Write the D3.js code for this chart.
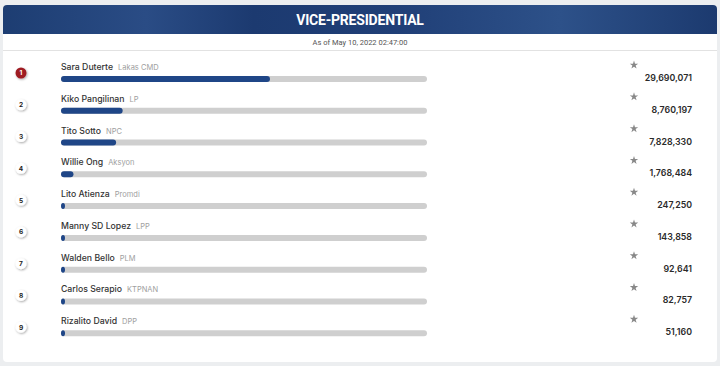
<!DOCTYPE html>
<html>
<head>
<meta charset="utf-8">
<script src="https://cdn.jsdelivr.net/npm/d3@7"></script>
<style>
  body { margin: 0; background: #eceef0; }
  svg { display: block; font-family: Inter, "Noto Sans", sans-serif; }
</style>
</head>
<body>
<svg id="chart"></svg>
<script>
// candidates, parties and votes as shown on the board
const names = ["Sara Duterte", "Kiko Pangilinan", "Tito Sotto", "Willie Ong", "Lito Atienza",
  "Manny SD Lopez", "Walden Bello", "Carlos Serapio", "Rizalito David"];
const parties = ["Lakas CMD", "LP", "NPC", "Aksyon", "Promdi", "LPP", "PLM", "KTPNAN", "DPP"];
const votes = [29690071, 8760197, 7828330, 1768484, 247250, 143858, 92641, 82757, 51160];
const voteMax = 52000000; // bar track full length

const W = 720, H = 366;
const svg = d3.select("#chart").attr("width", W).attr("height", H);

const defs = svg.append("defs");
const grad = defs.append("linearGradient").attr("id", "hdr").attr("x1", "0").attr("x2", "1");
[["0", "#1d3d72"], ["0.2", "#2a4c85"], ["0.35", "#1c3a70"], ["0.55", "#203f77"],
 ["0.78", "#2d5189"], ["1", "#1c3a6f"]].forEach(s =>
  grad.append("stop").attr("offset", s[0]).attr("stop-color", s[1]));
const sh = defs.append("filter").attr("id", "sh").attr("x", "-50%").attr("y", "-50%")
  .attr("width", "200%").attr("height", "200%");
sh.append("feDropShadow").attr("dx", 0.8).attr("dy", 1).attr("stdDeviation", 0.9)
  .attr("flood-color", "#000").attr("flood-opacity", 0.35);

// card
svg.append("rect").attr("x", 3).attr("y", 5).attr("width", 714).attr("height", 357)
  .attr("rx", 4).attr("fill", "#fff");
svg.append("path")
  .attr("d", "M3,34 V9 Q3,5 7,5 H713 Q717,5 717,9 V34 Z")
  .attr("fill", "url(#hdr)");
svg.append("text").attr("x", 360).attr("y", 25).attr("text-anchor", "middle")
  .attr("fill", "#fff").attr("font-size", 14).attr("font-weight", 700)
  .attr("font-family", "Roboto, sans-serif").attr("letter-spacing", -0.2)
  .text("VICE-PRESIDENTIAL");
svg.append("text").attr("x", 360).attr("y", 45).attr("text-anchor", "middle")
  .attr("fill", "#555").attr("font-size", 7.5).attr("font-family", "Roboto, sans-serif")
  .text("As of May 10, 2022 02:47:00");
svg.append("line").attr("x1", 3).attr("x2", 717).attr("y1", 50.5).attr("y2", 50.5)
  .attr("stroke", "#e2e2e2");

const x = d3.scaleLinear().domain([0, voteMax]).range([0, 366]);
const y = d3.scaleBand().domain(d3.range(names.length)).range([58, 344]);
const barX = 61, barH = 6;

const rows = svg.selectAll("g.row").data(names).join("g").attr("class", "row")
  .attr("transform", (d, i) => `translate(0,${y(i)})`);

rows.append("text").attr("x", barX).attr("y", 12).attr("font-size", 8.7)
  .attr("fill", "#333").attr("font-weight", 500)
  .text(d => d)
  .each(function(d, i) {
    const w = this.getComputedTextLength();
    d3.select(this.parentNode).append("text").attr("x", barX + w + 5).attr("y", 12)
      .attr("font-size", 7.5).attr("fill", "#a0a0a0").text(parties[i]);
  });

rows.append("rect").attr("x", barX).attr("y", 18).attr("width", 366).attr("height", barH)
  .attr("rx", 3).attr("fill", "#cfcfcf");
rows.append("rect").attr("x", barX).attr("y", 18)
  .attr("width", (d, i) => Math.max(4, x(votes[i]))).attr("height", barH)
  .attr("rx", 3).attr("fill", "#1f4687");

// rank badges
rows.append("circle").attr("cx", 21).attr("cy", 15).attr("r", 5.5)
  .attr("fill", (d, i) => i === 0 ? "#9e1b20" : "#fff")
  .attr("filter", "url(#sh)");
rows.append("text").attr("x", 21).attr("y", 17.4).attr("text-anchor", "middle")
  .attr("font-size", 6.5).attr("font-weight", 700)
  .attr("fill", (d, i) => i === 0 ? "#fff" : "#222")
  .text((d, i) => i + 1);

// star + value
const star = d3.symbol().type(d3.symbolStar).size(22);
rows.append("path").attr("d", star).attr("transform", "translate(634,7)").attr("fill", "#888");
rows.append("text").attr("x", 692).attr("y", 23).attr("text-anchor", "end")
  .attr("font-size", 8.8).attr("font-weight", 600).attr("fill", "#2a2a2a")
  .text((d, i) => d3.format(",")(votes[i]));
</script>
</body>
</html>
